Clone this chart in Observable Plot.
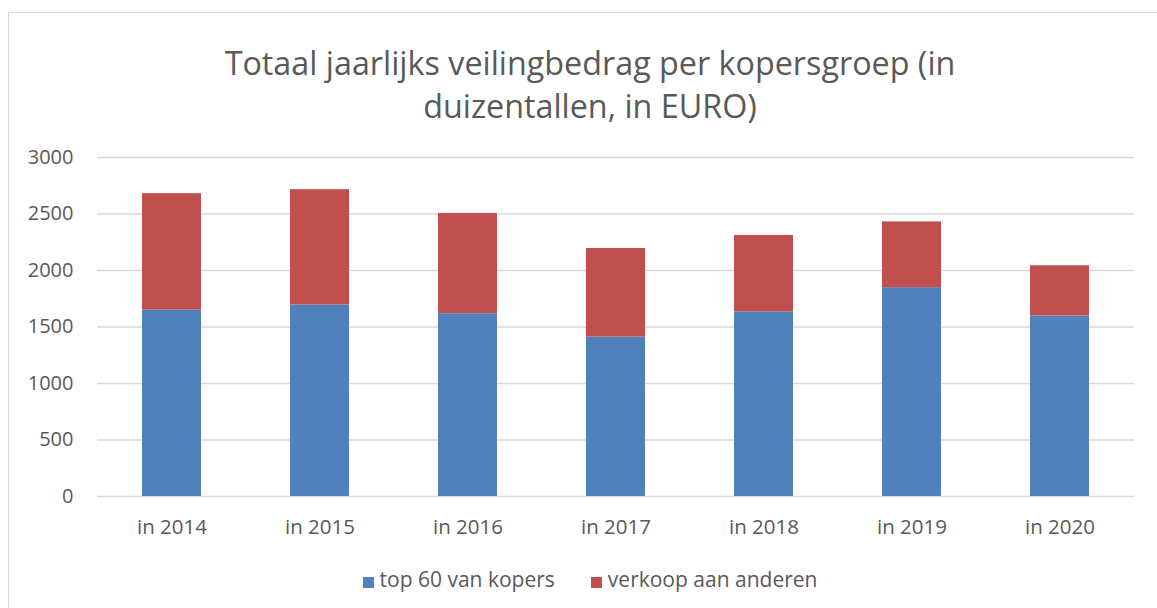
<!DOCTYPE html>
<html>
<head>
<meta charset="utf-8">
<script src="https://cdn.jsdelivr.net/npm/d3@7"></script>
<script src="https://cdn.jsdelivr.net/npm/@observablehq/plot@0.6"></script>
<style>
  html, body { margin: 0; padding: 0; background: #fff; }
  #wrap { position: relative; width: 1157px; height: 608px; overflow: hidden; font-family: "Open Sans", sans-serif; color: #595959; }
  #frame { position: absolute; left: 8px; top: 12px; width: 1200px; height: 700px; border: 1px solid #d9d9d9; box-sizing: border-box; }
  #title { position: absolute; left: 0; top: 0; width: 1180px; height: 140px; text-align: center; font-size: 32.3px; line-height: 43px; padding-top: 41px; box-sizing: border-box; color: #595959; }
  #chart { position: absolute; left: 0; top: 140px; }
  #legend { position: absolute; left: 0; top: 565px; width: 1180px; text-align: center; font-size: 21px; line-height: 28px; }
  .sw { display: inline-block; width: 11px; height: 11px; margin-right: 6px; vertical-align: -1px; }
  .item { display: inline-block; margin: 0; }
  .item:first-child { margin-right: 36px; }
</style>
</head>
<body>
<div id="wrap">
  <div id="frame"></div>
  <div id="title">Totaal jaarlijks veilingbedrag per kopersgroep (in<br>duizentallen, in EURO)</div>
  <div id="chart"></div>
  <div id="legend"></div>
</div>
<script>
const years = ["in 2014", "in 2015", "in 2016", "in 2017", "in 2018", "in 2019", "in 2020"];
const top60 = [1650, 1695, 1618, 1410, 1633, 1848, 1598];
const anderen = [1030, 1020, 887, 785, 677, 582, 444];
const seriesNames = ["top 60 van kopers", "verkoop aan anderen"];
const seriesColors = ["#4F81BD", "#C0504D"];
const yTicks = [0, 500, 1000, 1500, 2000, 2500, 3000];

const rows = [];
years.forEach((y, i) => {
  rows.push({year: y, series: seriesNames[0], value: top60[i]});
  rows.push({year: y, series: seriesNames[1], value: anderen[i]});
});

const plot = Plot.plot({
  width: 1157,
  height: 400,
  marginLeft: 97,
  marginRight: 23,
  marginTop: 17,
  marginBottom: 44,
  style: {fontFamily: "'Open Sans', sans-serif", fontSize: "20px", color: "#595959", background: "transparent"},
  x: {domain: years, paddingInner: 0.6, paddingOuter: 0.3, label: null},
  y: {domain: [0, 3000], label: null},
  color: {domain: seriesNames, range: seriesColors},
  marks: [
    Plot.gridY(yTicks, {stroke: "#d9d9d9", strokeOpacity: 1, strokeWidth: 1.3}),
    Plot.barY(rows, Plot.stackY({x: "year", y: "value", fill: "series", order: seriesNames})),
    Plot.axisY(yTicks, {tickSize: 0, tickPadding: 24, label: null, fontSize: 20, fill: "#595959", tickFormat: d3.format("d")}),
    Plot.axisX({tickSize: 0, tickPadding: 23, label: null, fontSize: 20.5, fill: "#595959"})
  ]
});
document.getElementById("chart").appendChild(plot);

const legend = document.getElementById("legend");
seriesNames.forEach((n, i) => {
  const s = document.createElement("span");
  s.className = "item";
  s.innerHTML = `<span class="sw" style="background:${seriesColors[i]}"></span>${n}`;
  legend.appendChild(s);
});
</script>
</body>
</html>
